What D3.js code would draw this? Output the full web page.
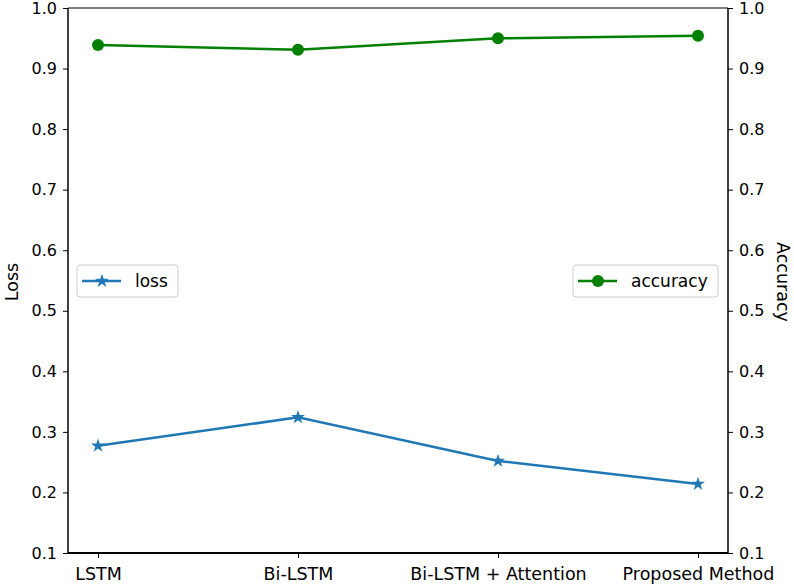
<!DOCTYPE html>
<html>
<head>
<meta charset="utf-8">
<script src="https://cdn.jsdelivr.net/npm/d3@7"></script>
<style>
  body { margin: 0; background: #fff; }
  svg text { font-family: "DejaVu Sans", sans-serif; }
</style>
</head>
<body>
<svg id="chart" width="794" height="588"></svg>
<script>
var categories = ["LSTM", "Bi-LSTM", "Bi-LSTM + Attention", "Proposed Method"];
var lossValues = [0.277, 0.324, 0.252, 0.214];
var accuracyValues = [0.939, 0.931, 0.950, 0.954];
var yTicks = [0.1, 0.2, 0.3, 0.4, 0.5, 0.6, 0.7, 0.8, 0.9, 1.0];

var svg = d3.select("#chart");
var margin = { top: 8, right: 66, bottom: 35, left: 68 },
    width = +svg.attr("width") - margin.left - margin.right,
    height = +svg.attr("height") - margin.top - margin.bottom;

var g = svg.append("g")
    .attr("transform", "translate(" + margin.left + "," + margin.top + ")");

// matplotlib-like 5% margin on a categorical index axis
var x = d3.scaleLinear().domain([-0.15, categories.length - 1 + 0.15]).range([0, width]);
var yL = d3.scaleLinear().domain([0.1, 1.0]).range([height, 0]);
var yR = d3.scaleLinear().domain([0.1, 1.0]).range([height, 0]);

function styleAxis(size) {
    return function(sel) {
        sel.selectAll("text").attr("font-size", size).attr("fill", "#000");
        sel.selectAll(".tick line").attr("stroke", "#000");
        sel.select(".domain").remove();
    };
}

g.append("g")
    .attr("transform", "translate(0," + height + ")")
    .call(d3.axisBottom(x).tickValues(d3.range(categories.length))
        .tickFormat(function(i) { return categories[i]; }).tickSize(5).tickPadding(10))
    .call(styleAxis(17.5));

g.append("g")
    .call(d3.axisLeft(yL).tickValues(yTicks).tickFormat(d3.format(".1f")).tickSize(5).tickPadding(6))
    .call(styleAxis(16));

g.append("g")
    .attr("transform", "translate(" + width + ",0)")
    .call(d3.axisRight(yR).tickValues(yTicks).tickFormat(d3.format(".1f")).tickSize(5).tickPadding(6))
    .call(styleAxis(16));

// frame
g.append("line").attr("x1", 0).attr("x2", width).attr("y1", 0).attr("y2", 0)
    .attr("stroke", "#555").attr("stroke-width", 1.5);
g.append("line").attr("x1", 0).attr("x2", width).attr("y1", height).attr("y2", height)
    .attr("stroke", "#000").attr("stroke-width", 2);
g.append("line").attr("x1", 0).attr("x2", 0).attr("y1", 0).attr("y2", height)
    .attr("stroke", "#000").attr("stroke-width", 1.5);
g.append("line").attr("x1", width).attr("x2", width).attr("y1", 0).attr("y2", height)
    .attr("stroke", "#000").attr("stroke-width", 1.5);

// axis titles
svg.append("text")
    .attr("transform", "translate(18," + 282 + ") rotate(-90)")
    .attr("text-anchor", "middle").attr("font-size", 17.5).text("Loss");
svg.append("text")
    .attr("transform", "translate(777," + 282 + ") rotate(90)")
    .attr("text-anchor", "middle").attr("font-size", 17.5).text("Accuracy");

var blue = "#1f77b4", green = "#008000";

var lineL = d3.line().x(function(d, i) { return x(i); }).y(function(d) { return yL(d); });
var lineR = d3.line().x(function(d, i) { return x(i); }).y(function(d) { return yR(d); });

g.append("path").datum(lossValues).attr("d", lineL)
    .attr("fill", "none").attr("stroke", blue).attr("stroke-width", 2.5);
g.selectAll(".star").data(lossValues).enter().append("path")
    .attr("class", "star")
    .attr("transform", function(d, i) { return "translate(" + x(i) + "," + yL(d) + ")"; })
    .attr("d", d3.symbol().type(d3.symbolStar).size(60))
    .attr("fill", blue);

g.append("path").datum(accuracyValues).attr("d", lineR)
    .attr("fill", "none").attr("stroke", green).attr("stroke-width", 2.5);
g.selectAll(".dot").data(accuracyValues).enter().append("circle")
    .attr("class", "dot")
    .attr("cx", function(d, i) { return x(i); })
    .attr("cy", function(d) { return yR(d); })
    .attr("r", 6).attr("fill", green);

// legends
function legend(gx, gy, w, label, color, marker) {
    var lg = g.append("g").attr("transform", "translate(" + gx + "," + gy + ")");
    lg.append("rect").attr("width", w).attr("height", 32).attr("rx", 3)
        .attr("fill", "#fff").attr("stroke", "#ccc").attr("stroke-width", 1);
    lg.append("line").attr("x1", 5).attr("x2", 44).attr("y1", 16).attr("y2", 16)
        .attr("stroke", color).attr("stroke-width", 2.5);
    if (marker === "star") {
        lg.append("path").attr("transform", "translate(25,16)")
            .attr("d", d3.symbol().type(d3.symbolStar).size(60)).attr("fill", color);
    } else {
        lg.append("circle").attr("cx", 25).attr("cy", 16).attr("r", 6).attr("fill", color);
    }
    lg.append("text").attr("x", 58).attr("y", 22).attr("font-size", 17).text(label);
}
legend(9, 257, 101, "loss", blue, "star");
legend(505, 257, 145, "accuracy", green, "circle");
</script>
</body>
</html>
